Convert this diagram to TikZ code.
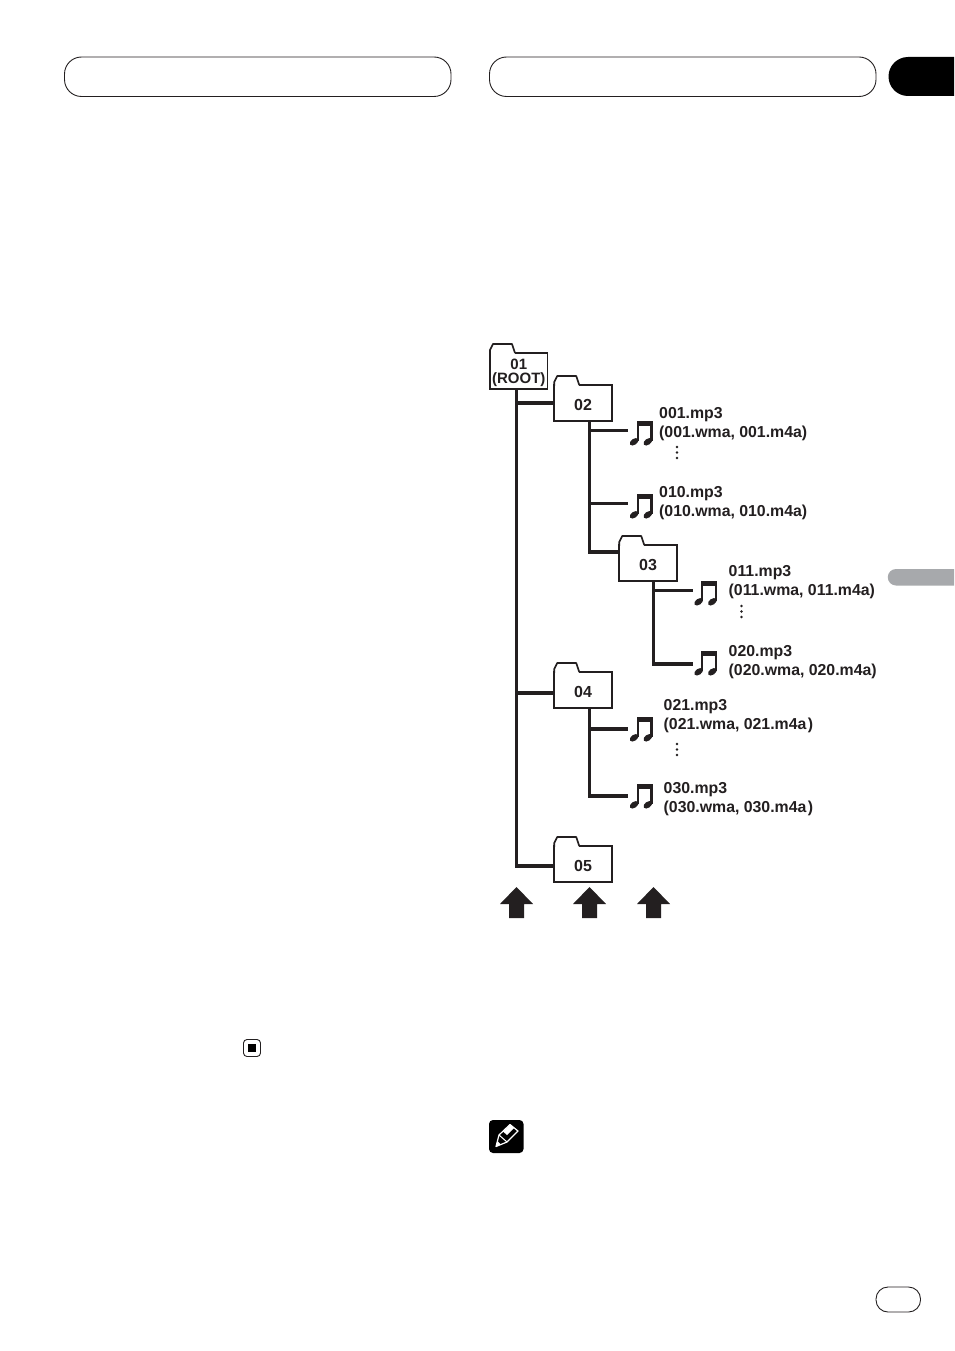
\documentclass[tikz,border=0pt]{standalone}
\usepackage{fontspec}
\setmainfont{Liberation Sans}
\usetikzlibrary{calc}
\definecolor{ink}{HTML}{231F20}
\definecolor{tabgrey}{HTML}{A7A9AC}
\tikzset{
  x=1pt,y=-1pt,
  header/.style={draw=ink,line width=0.9pt,rounded corners=17pt},
  trunk/.style={draw=ink,line width=3.2pt,line cap=butt},
  folderbody/.style={draw=ink,line width=1.7pt,fill=white,minimum width=57.5pt,minimum height=36pt,
    inner sep=0pt,outer sep=0pt,text=ink,align=center,
    font=\bfseries\fontsize{16}{14}\selectfont},
  tabline/.style={draw=ink,line width=1.7pt,line join=round},
  notebox/.style={minimum width=33pt,minimum height=24pt,inner sep=0pt,outer sep=0pt},
  filelabel/.style={anchor=west,inner sep=0pt,align=left,text=ink,
    font=\bfseries\fontsize{15.85}{19}\selectfont},
  upmark/.style={fill=ink}
}
% folder: body node plus the tab on its upper left corner, open towards the body
\newcommand{\folder}[5]{%
  \node[folderbody] (#1) at (#2,#3) {\vbox{\vskip#5\halign{\hfil##\hfil\cr#4\crcr}}};
  \draw[white,line width=2.2pt] ($(#1.north west)+(1,0)$) -- ++(23.5,0);
  \draw[tabline] ($(#1.north west)+(0,0.8)$) -- ++(0,-3.8) -- ++(3,-6) -- ++(19,0) -- ++(3,9);
}
% pair of beamed notes around a named node
\newcommand{\beamednotes}[3]{%
  \node[notebox] (#1) at (#2,#3) {};
  \begin{scope}[shift={(#1.center)}]
    \fill[ink] (-7.9,-12) rectangle (8,-7);
    \fill[ink] (-7.9,-12) rectangle (-5.7,8);
    \fill[ink] (5.8,-12) rectangle (8,8);
    \fill[ink,rotate around={35:(-10.4,8.8)}] (-10.4,8.8) ellipse (4.9 and 3);
    \fill[ink,rotate around={35:(3.3,8.8)}] (3.3,8.8) ellipse (4.9 and 3);
  \end{scope}
}
\newcommand{\vdotsmark}[2]{%
  \fill[ink] (#1,#2) circle (1.3) (#1,#2+5.5) circle (1.3) (#1,#2+11) circle (1.3);
}
\newcommand{\upmarker}[1]{%
  \fill[upmark] (#1,887) -- (#1+16.5,904) -- (#1+7.5,904) -- (#1+7.5,918)
    -- (#1-7.5,918) -- (#1-7.5,904) -- (#1-16.5,904) -- cycle;
}
\begin{document}
\begin{tikzpicture}
\useasboundingbox (0,0) rectangle (954,1351);
\fill[white] (0,0) rectangle (954,1351);

% page furniture
\draw[header] (64.5,57) rectangle (451,96.5);
\draw[header] (489.5,57) rectangle (876,96.5);
\fill[black] (954,57) -- (908,57) arc[start angle=270,end angle=90,radius=19.5,y=1pt] -- (954,96) -- cycle;
\fill[tabgrey] (954,569) -- (896,569) arc[start angle=270,end angle=90,radius=8.25,y=1pt] -- (954,585.5) -- cycle;
\draw[ink,line width=0.9pt,rounded corners=12pt] (876,1287) rectangle (920.5,1312);
\draw[ink,line width=0.9pt,rounded corners=3.5pt] (243.5,1039.5) rectangle (260.5,1056.5);
\fill[black] (248,1044) rectangle (256,1052);

% pencil sign
\fill[black,rounded corners=4pt] (489,1120) rectangle (523.5,1153);
\draw[white,line width=1.2pt,line join=round] (496,1146.5) -- (499,1135) -- (510,1124.5) -- (518,1131) -- (507,1142) -- cycle;
\fill[white] (503,1131.5) -- (510,1124.5) -- (514,1128) -- (507,1135) -- cycle;
\draw[white,line width=1pt] (499,1135) -- (507,1142);
\fill[white] (496,1146.5) -- (497.5,1141) -- (501,1144.5) -- cycle;

% folders
\folder{f01}{518.75}{371}{\fontsize{15}{14}\selectfont 01\cr\fontsize{15}{14}\selectfont (ROOT)}{4.5pt}
\folder{f02}{583}{403}{02}{3pt}
\folder{f03}{648}{563}{03}{3pt}
\folder{f04}{583}{690}{04}{3pt}
\folder{f05}{583}{864}{05}{3pt}

% files
\beamednotes{n01}{644.5}{433}
\beamednotes{n02}{644.5}{506}
\beamednotes{n03}{709}{593}
\beamednotes{n04}{709}{663}
\beamednotes{n05}{644.5}{729}
\beamednotes{n06}{644.5}{796}

\node[filelabel] (l01) at (659,424) {001.mp3\\(001.wma, 001.m4a)};
\node[filelabel] (l02) at (659,503) {010.mp3\\(010.wma, 010.m4a)};
\node[filelabel] (l03) at (728.5,582.5) {011.mp3\\(011.wma, 011.m4a)};
\node[filelabel] (l04) at (728.5,662) {020.mp3\\(020.wma, 020.m4a)};
\node[filelabel] (l05) at (663.5,716.5) {021.mp3\\(021.wma, 021.m4a\kern1.5pt)};
\node[filelabel] (l06) at (663.5,799) {030.mp3\\(030.wma, 030.m4a\kern1.5pt)};

\vdotsmark{677}{447}
\vdotsmark{741.5}{606}
\vdotsmark{677}{744}

% branch points on the trunks
\coordinate (t1) at (516.5,389);
\coordinate (t2) at (589.5,421);
\coordinate (t3) at (653.5,581);
\coordinate (t4) at (589.5,708);

% tree connectors
\draw[trunk] (t1) |- (f05.west |- 0,866);
\draw[trunk] (t1 |- f02.west) -- (f02.west);
\draw[trunk] (t1 |- 0,693) -- (f04.west |- 0,693);
\draw[trunk] (t2) |- (f03.west |- 0,552);
\draw[trunk] (t2 |- 0,430.7) -- (n01.west |- 0,430.7);
\draw[trunk] (t2 |- 0,503.7) -- (n02.west |- 0,503.7);
\draw[trunk] (t3) -- (t3 |- 0,664) -- (n04.west |- 0,664);
\draw[trunk] (t3 |- 0,590.5) -- (n03.west |- 0,590.5);
\draw[trunk] (t4) -- (t4 |- 0,796) -- (n06.west |- 0,796);
\draw[trunk] (t4 |- 0,729) -- (n05.west |- 0,729);

% level markers
\upmarker{516.5}
\upmarker{589.5}
\upmarker{653.5}
\end{tikzpicture}
\end{document}
